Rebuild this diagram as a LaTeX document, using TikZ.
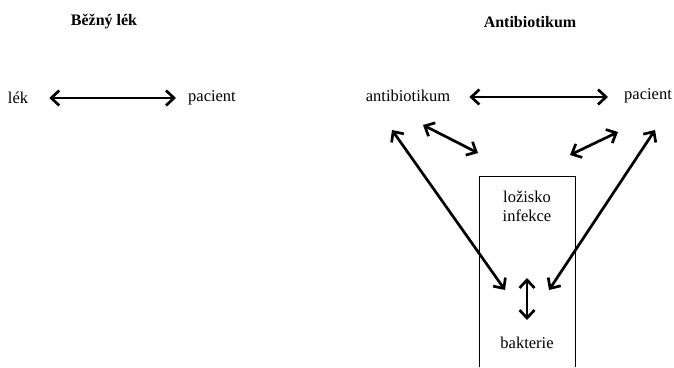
\documentclass[tikz,border=0pt]{standalone}
\usepackage{fontspec}
\setmainfont{Liberation Serif}
\usetikzlibrary{arrows.meta}

\begin{document}
\begin{tikzpicture}[x=1pt,y=-1pt]
\tikzstyle{every node}=[inner sep=0pt,font=\fontsize{16.5}{19}\selectfont];
\tikzstyle{title}=[font=\fontsize{16}{19}\selectfont\bfseries];
\tikzstyle{link}=[line width=2.7pt,{Straight Barb[length=8pt,width=15pt]}-{Straight Barb[length=8pt,width=15pt]}];
\useasboundingbox (0,0) rectangle (674,367);

% titles
\node[title] (common) at (104,22) {Běžný lék};
\node[title] (anti) at (530,22) {Antibiotikum};

% left part
\node (drug) at (18,98) {lék};
\node (patientA) at (212,98) {pacient};
\path (drug.east) ++(21,0) coordinate (d1) (patientA.west) ++(-12,0) coordinate (p1);
\draw[link] (d1) -- (p1);

% right part
\node (antib) at (408,96) {antibiotikum};
\node (patientB) at (648,96) {pacient};
\node[align=center] (focus) at (527,206) {ložisko\\infekce};
\node (bact) at (527,343) {bakterie};
\draw[line width=0.8pt] (479,367) -- (479,176) -- (575,176) -- (575,367);

\coordinate (a1) at (392,130);
\coordinate (a2) at (505,290);
\coordinate (b1) at (423,125);
\coordinate (b2) at (478,153);
\coordinate (c1) at (618,132);
\coordinate (c2) at (570,155);
\coordinate (e1) at (655,130);
\coordinate (e2) at (549,290);
\coordinate (v1) at (527,278);
\coordinate (v2) at (527,320);

\path (antib.east) ++(19,1) coordinate (h1) (patientB.west) ++(-16,1) coordinate (h2);
\draw[link] (h1) -- (h2);
\draw[link] (a1) -- (a2);
\draw[link] (b1) -- (b2);
\draw[link] (c1) -- (c2);
\draw[link] (e1) -- (e2);
\draw[link] (v1) -- (v2);
\end{tikzpicture}
\end{document}
